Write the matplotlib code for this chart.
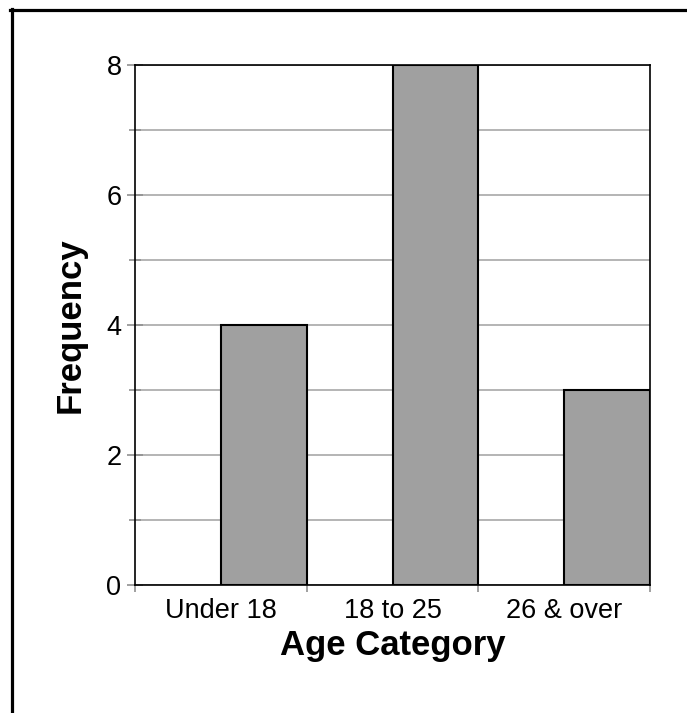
import numpy as np
import matplotlib.pyplot as plt
from matplotlib.lines import Line2D

categories = ['Under 18', '18 to 25', '26 & over']
frequency = [4, 8, 3]

plt.rcParams['font.family'] = ['Liberation Sans', 'DejaVu Sans']

W, H = 687, 713
fig = plt.figure(figsize=(W/100, H/100), dpi=100)
ax = fig.add_axes([135/W, 1 - 585/H, (650-135)/W, (585-65)/H])

x = np.arange(len(categories))
# bars start at the category centre and fill the right half of the slot
ax.bar(x, frequency, width=0.5, align='edge', color='#a0a0a0',
       edgecolor='black', linewidth=1.5, zorder=3)

ax.set_xlim(-0.5, len(categories) - 0.5)
ax.set_ylim(0, 8)

ax.set_yticks([0, 2, 4, 6, 8])
ax.set_yticks([1, 3, 5, 7], minor=True)
ax.yaxis.grid(True, which='both', color='#a8a8a8', linewidth=1.2, zorder=0)
ax.tick_params(axis='y', which='major', direction='inout', length=11.5,
               width=1.2, color='#909090', labelsize=19.5, pad=4)
ax.tick_params(axis='y', which='minor', direction='inout', length=8,
               width=1.2, color='#909090')

ax.set_xticks(x)
ax.set_xticklabels(categories)
ax.set_xticks(np.arange(len(categories) + 1) - 0.5, minor=True)
ax.tick_params(axis='x', which='major', length=0, labelsize=19.5, pad=9)
ax.tick_params(axis='x', which='minor', direction='out', length=5,
               width=1.2, color='#909090')

for s in ax.spines.values():
    s.set_color('black')
    s.set_linewidth(1.2)

ax.set_xlabel('Age Category', fontsize=25, fontweight='bold', labelpad=4)
ax.set_ylabel('Frequency', fontsize=25, fontweight='bold', labelpad=14)

# frame around the chart (only top and left edges are visible)
fig.add_artist(Line2D([10/W, 1], [1 - 9.5/H, 1 - 9.5/H], color='black',
                      linewidth=2.3, transform=fig.transFigure))
fig.add_artist(Line2D([11.5/W, 11.5/W], [1 - 8.5/H, 0], color='black',
                      linewidth=2.3, transform=fig.transFigure))

fig.savefig('out.png', dpi=100)
